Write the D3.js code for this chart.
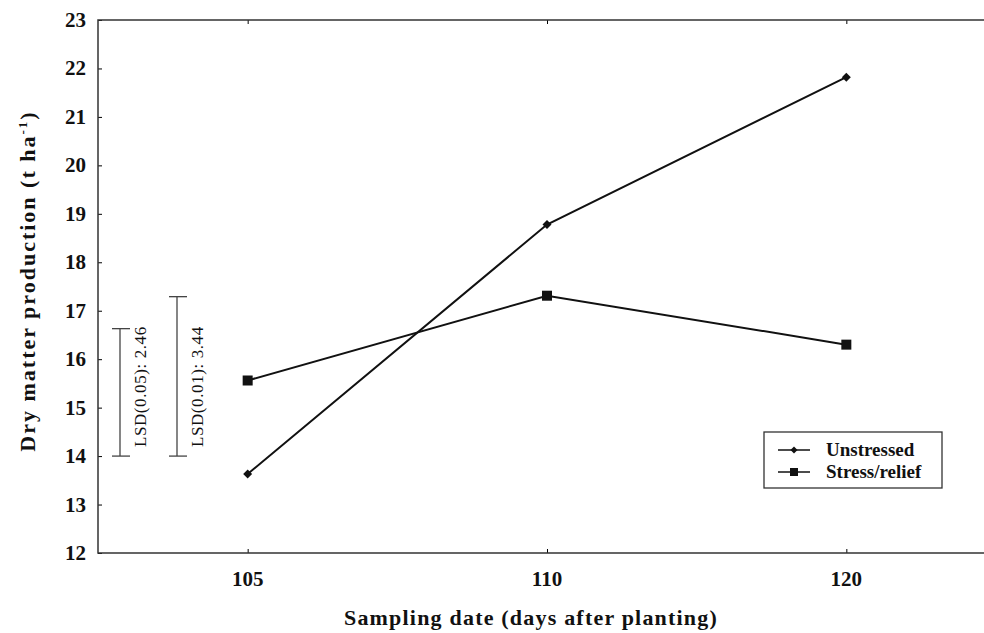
<!DOCTYPE html>
<html>
<head>
<meta charset="utf-8">
<script src="https://cdn.jsdelivr.net/npm/d3@7"></script>
<style>
	body { margin: 0; background: #fff; }
	text { font-family: "Liberation Serif", "Times New Roman", serif; fill: #111; }
</style>
</head>
<body>
<div id="chart-area"></div>
<script>

// datos
var days = ["105", "110", "120"];
var unstressed = [13.63, 18.78, 21.82];
var stressRelief = [15.56, 17.31, 16.30];
var yTicks = [12, 13, 14, 15, 16, 17, 18, 19, 20, 21, 22, 23];
var lsdLabels = ["LSD(0.05): 2.46", "LSD(0.01): 3.44"];
var lsdFrom = [14, 14];
var lsdTo = [16.63, 17.29];

var svg = d3.select("#chart-area")
			.append("svg")
			.attr("width", 984)
			.attr("height", 633);

var pLeft = 98, pTop = 20, pBottom = 553, pRight = 996;

var x = d3.scalePoint()
		.domain(days)
		.range([pLeft, pRight])
		.padding(0.5);

var y = d3.scaleLinear()
		.domain([12, 23])
		.range([pBottom, pTop]);

// eixos
svg.append("g")
	.attr("transform", "translate(" + pLeft + ",0)")
	.call(d3.axisRight(y).tickValues(yTicks).tickSize(4).tickFormat(""))
	.call(function(g){ g.select(".domain").remove(); });

svg.selectAll(".ylab")
	.data(yTicks)
	.enter()
	.append("text")
	.attr("x", 86)
	.attr("y", function(d){ return y(d) + 7; })
	.attr("text-anchor", "end")
	.attr("font-size", 21)
	.attr("font-weight", "bold")
	.text(function(d){ return d; });

svg.append("g")
	.attr("transform", "translate(0," + pBottom + ")")
	.call(d3.axisTop(x).tickSize(4).tickFormat(""))
	.call(function(g){ g.select(".domain").remove(); });

svg.append("g")
	.attr("transform", "translate(0," + pTop + ")")
	.call(d3.axisBottom(x).tickSize(4).tickFormat(""))
	.call(function(g){ g.select(".domain").remove(); });

svg.selectAll(".xlab")
	.data(days)
	.enter()
	.append("text")
	.attr("x", function(d){ return x(d); })
	.attr("y", 586)
	.attr("text-anchor", "middle")
	.attr("font-size", 21)
	.attr("font-weight", "bold")
	.text(function(d){ return d; });

// moldura
svg.append("path")
	.attr("d", "M" + pRight + "," + pTop + "H" + pLeft + "V" + pBottom + "H" + pRight)
	.attr("fill", "none")
	.attr("stroke", "#333")
	.attr("stroke-width", 1.5);

svg.append("text")
	.attr("x", 531)
	.attr("y", 625)
	.attr("text-anchor", "middle")
	.attr("font-size", 22)
	.attr("letter-spacing", 1.2)
	.attr("font-weight", "bold")
	.text("Sampling date (days after planting)");

var yt = svg.append("text")
	.attr("transform", "translate(35,281) rotate(-90)")
	.attr("text-anchor", "middle")
	.attr("font-size", 22)
	.attr("letter-spacing", 2)
	.attr("font-weight", "bold");
yt.append("tspan").text("Dry matter production (t ha");
yt.append("tspan").attr("font-size", 13).attr("dy", -8).text("-1");
yt.append("tspan").attr("dy", 8).text(")");

// barras LSD
var lsdX = [120, 177];
lsdLabels.forEach(function(lab, i){
	var g = svg.append("g").attr("stroke", "#444").attr("stroke-width", 1.3);
	g.append("line").attr("x1", lsdX[i]).attr("x2", lsdX[i])
		.attr("y1", y(lsdFrom[i])).attr("y2", y(lsdTo[i]));
	g.append("line").attr("x1", lsdX[i] - 8).attr("x2", lsdX[i] + 10)
		.attr("y1", y(lsdFrom[i])).attr("y2", y(lsdFrom[i]));
	g.append("line").attr("x1", lsdX[i] - 8).attr("x2", lsdX[i] + 10)
		.attr("y1", y(lsdTo[i])).attr("y2", y(lsdTo[i]));
	svg.append("text")
		.attr("transform", "translate(" + (lsdX[i] + 26) + "," + (y(lsdFrom[i]) - 9) + ") rotate(-90)")
		.attr("font-size", 17)
		.attr("letter-spacing", 0.6)
		.text(lab);
});

// linhas
var line = d3.line()
		.x(function(d, i){ return x(days[i]); })
		.y(function(d){ return y(d); });

svg.append("path")
	.datum(unstressed)
	.attr("d", line)
	.attr("fill", "none")
	.attr("stroke", "#111")
	.attr("stroke-width", 2);

svg.append("path")
	.datum(stressRelief)
	.attr("d", line)
	.attr("fill", "none")
	.attr("stroke", "#111")
	.attr("stroke-width", 2);

var diamond = d3.symbol().type(d3.symbolSquare).size(40);

svg.selectAll(".pt1")
	.data(unstressed)
	.enter()
	.append("path")
	.attr("d", diamond)
	.attr("transform", function(d, i){ return "translate(" + x(days[i]) + "," + y(d) + ") rotate(45)"; })
	.attr("fill", "#111");

svg.selectAll(".pt2")
	.data(stressRelief)
	.enter()
	.append("rect")
	.attr("x", function(d, i){ return x(days[i]) - 5; })
	.attr("y", function(d){ return y(d) - 5; })
	.attr("width", 10)
	.attr("height", 10)
	.attr("fill", "#111");

// legenda
var leg = svg.append("g").attr("transform", "translate(764,432)");
leg.append("rect")
	.attr("width", 178)
	.attr("height", 56)
	.attr("fill", "#fff")
	.attr("stroke", "#333")
	.attr("stroke-width", 1.3);

var names = ["Unstressed", "Stress/relief"];
names.forEach(function(n, i){
	var cy = 18 + i * 22;
	leg.append("line").attr("x1", 14).attr("x2", 46).attr("y1", cy).attr("y2", cy)
		.attr("stroke", "#111").attr("stroke-width", 1.5);
	if(i == 0){
		leg.append("path").attr("d", d3.symbol().type(d3.symbolSquare).size(25))
			.attr("transform", "translate(30," + cy + ") rotate(45)").attr("fill", "#111");
	}
	else{
		leg.append("rect").attr("x", 26).attr("y", cy - 4).attr("width", 8).attr("height", 8)
			.attr("fill", "#111");
	}
	leg.append("text")
		.attr("x", 62)
		.attr("y", cy + 6)
		.attr("font-size", 19)
		.attr("font-weight", "bold")
		.text(n);
});

</script>
</body>
</html>
